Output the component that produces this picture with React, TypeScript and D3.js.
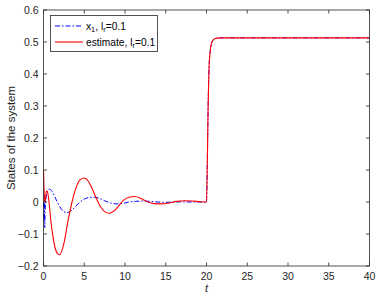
import { useEffect, useRef } from "react";
import * as d3 from "d3";

const tRed = [0, 0.1, 0.2, 0.35, 0.5, 1.0, 1.5, 1.95, 2.5, 3.0, 3.5, 4.0, 4.5, 5.0, 5.5, 6.0, 6.5, 7.0, 7.5, 8.1, 8.7, 9.3, 9.8, 10.5, 11.2, 12.0, 12.8, 13.6, 14.5, 15.4, 16.3, 17.3, 18.3, 19.2, 20.0, 20.1, 20.2, 20.3, 20.45, 20.6, 20.8, 21.1, 21.6, 30, 40];
const vRed = [0.1, 0.02, 0.0, 0.035, 0.03, -0.08, -0.15, -0.165, -0.13, -0.06, 0.0, 0.045, 0.07, 0.075, 0.065, 0.04, 0.01, -0.015, -0.03, -0.035, -0.027, -0.01, 0.005, 0.015, 0.017, 0.01, 0.0, -0.005, -0.006, -0.003, 0.002, 0.004, 0.003, 0.001, 0.0, 0.12, 0.3, 0.41, 0.47, 0.495, 0.506, 0.511, 0.513, 0.513, 0.513];

const tBlue = [0, 0.05, 0.1, 0.15, 0.2, 0.3, 0.5, 0.75, 1.0, 1.5, 2.0, 2.5, 2.9, 3.5, 4.0, 4.5, 5.0, 5.6, 6.2, 6.8, 7.5, 8.2, 9.0, 9.8, 10.5, 11.3, 12.2, 13, 14, 15, 16, 17, 18, 20, 20.1, 20.2, 20.3, 20.45, 20.6, 20.8, 21.1, 21.6, 30, 40];
const vBlue = [0, -0.06, 0.02, -0.08, -0.03, 0.01, 0.035, 0.04, 0.035, 0.01, -0.015, -0.03, -0.033, -0.025, -0.012, 0.0, 0.009, 0.014, 0.015, 0.012, 0.004, -0.003, -0.006, -0.004, 0.0, 0.002, 0.003, 0.002, 0.0, -0.001, 0, 0.0005, 0, 0, 0.12, 0.3, 0.41, 0.47, 0.495, 0.506, 0.511, 0.513, 0.513, 0.513];

const xTicks = [0, 5, 10, 15, 20, 25, 30, 35, 40];
const yTicks = [-0.2, -0.1, 0, 0.1, 0.2, 0.3, 0.4, 0.5, 0.6];

export default function App() {
  const ref = useRef<SVGSVGElement>(null);

  useEffect(() => {
    const w = 386,
      h = 300,
      margin = { top: 10, right: 16.5, bottom: 34, left: 43.5 };
    const svg = d3.select(ref.current);
    svg.selectAll("*").remove();
    svg.attr("width", w).attr("height", h).style("font-family", "Liberation Sans, Arial, sans-serif");

    const x = d3.scaleLinear().domain([0, 40]).range([margin.left, w - margin.right]);
    const y = d3.scaleLinear().domain([-0.2, 0.6]).range([h - margin.bottom, margin.top]);

    svg.append("rect").attr("width", w).attr("height", h).attr("fill", "#fff");

    const line = d3
      .line<[number, number]>()
      .x((d) => x(d[0]))
      .y((d) => y(d[1]))
      .curve(d3.curveMonotoneX);

    const blueData = tBlue.map((t, i) => [t, vBlue[i]] as [number, number]);
    const redData = tRed.map((t, i) => [t, vRed[i]] as [number, number]);

    svg
      .append("path")
      .attr("d", line(blueData))
      .attr("fill", "none")
      .attr("stroke", "#0000ff")
      .attr("stroke-width", 1)
      .attr("stroke-dasharray", "5,2,1.5,2");

    svg
      .append("path")
      .attr("d", line(redData))
      .attr("fill", "none")
      .attr("stroke", "#ff0000")
      .attr("stroke-width", 1.1);

    // axes box
    const gAx = svg.append("g").attr("stroke", "#262626").attr("stroke-width", 0.8);
    gAx
      .append("rect")
      .attr("x", x(0))
      .attr("y", y(0.6))
      .attr("width", x(40) - x(0))
      .attr("height", y(-0.2) - y(0.6))
      .attr("fill", "none");
    xTicks.forEach((t) => {
      gAx.append("line").attr("x1", x(t)).attr("x2", x(t)).attr("y1", y(-0.2)).attr("y2", y(-0.2) - 3.5);
      gAx.append("line").attr("x1", x(t)).attr("x2", x(t)).attr("y1", y(0.6)).attr("y2", y(0.6) + 3.5);
    });
    yTicks.forEach((v) => {
      gAx.append("line").attr("x1", x(0)).attr("x2", x(0) + 3.5).attr("y1", y(v)).attr("y2", y(v));
      gAx.append("line").attr("x1", x(40)).attr("x2", x(40) - 3.5).attr("y1", y(v)).attr("y2", y(v));
    });

    svg
      .append("g")
      .selectAll("text")
      .data(xTicks)
      .join("text")
      .attr("x", (d) => x(d))
      .attr("y", y(-0.2) + 14)
      .attr("text-anchor", "middle")
      .attr("font-size", 10.5)
      .attr("fill", "#262626")
      .text((d) => String(d));

    svg
      .append("g")
      .selectAll("text")
      .data(yTicks)
      .join("text")
      .attr("x", x(0) - 5)
      .attr("y", (d) => y(d) + 3.7)
      .attr("text-anchor", "end")
      .attr("font-size", 10.5)
      .attr("fill", "#262626")
      .text((d) => (d === 0 ? "0" : d3.format(".1f")(d)));

    svg
      .append("text")
      .attr("x", x(20))
      .attr("y", h - 8)
      .attr("text-anchor", "middle")
      .attr("font-size", 11)
      .attr("font-style", "italic")
      .attr("fill", "#262626")
      .text("t");

    svg
      .append("text")
      .attr("transform", `translate(15,${(y(0.6) + y(-0.2)) / 2}) rotate(-90)`)
      .attr("text-anchor", "middle")
      .attr("font-size", 11.5)
      .attr("fill", "#262626")
      .text("States of the system");

    // legend
    const lg = svg.append("g");
    lg.append("rect")
      .attr("x", 50.5)
      .attr("y", 15.5)
      .attr("width", 107)
      .attr("height", 36)
      .attr("fill", "#fff")
      .attr("stroke", "#262626")
      .attr("stroke-width", 0.8);
    const items = [
      { color: "#0000ff", dash: "5,2,1.5,2", name: "x", sub: "1", yy: 26 },
      { color: "#ff0000", dash: null, name: "estimate", sub: null, yy: 42 },
    ];
    items.forEach((it) => {
      lg.append("line")
        .attr("x1", 55)
        .attr("x2", 83)
        .attr("y1", it.yy)
        .attr("y2", it.yy)
        .attr("stroke", it.color)
        .attr("stroke-width", it.dash ? 1 : 1.1)
        .attr("stroke-dasharray", it.dash);
      const t = lg
        .append("text")
        .attr("x", 86)
        .attr("y", it.yy + 3.5)
        .attr("font-size", 10.2)
        .attr("fill", "#000");
      t.append("tspan").text(it.name);
      if (it.sub) t.append("tspan").attr("font-size", 7.5).attr("dy", 2.5).text(it.sub);
      t.append("tspan").attr("dy", it.sub ? -2.5 : 0).text(", l");
      t.append("tspan").attr("font-size", 7.5).attr("dy", 2.5).text("r");
      t.append("tspan").attr("dy", -2.5).text("=0.1");
    });
  }, []);

  return <svg ref={ref} style={{ position: "absolute", left: 0, top: 0 }} />;
}
